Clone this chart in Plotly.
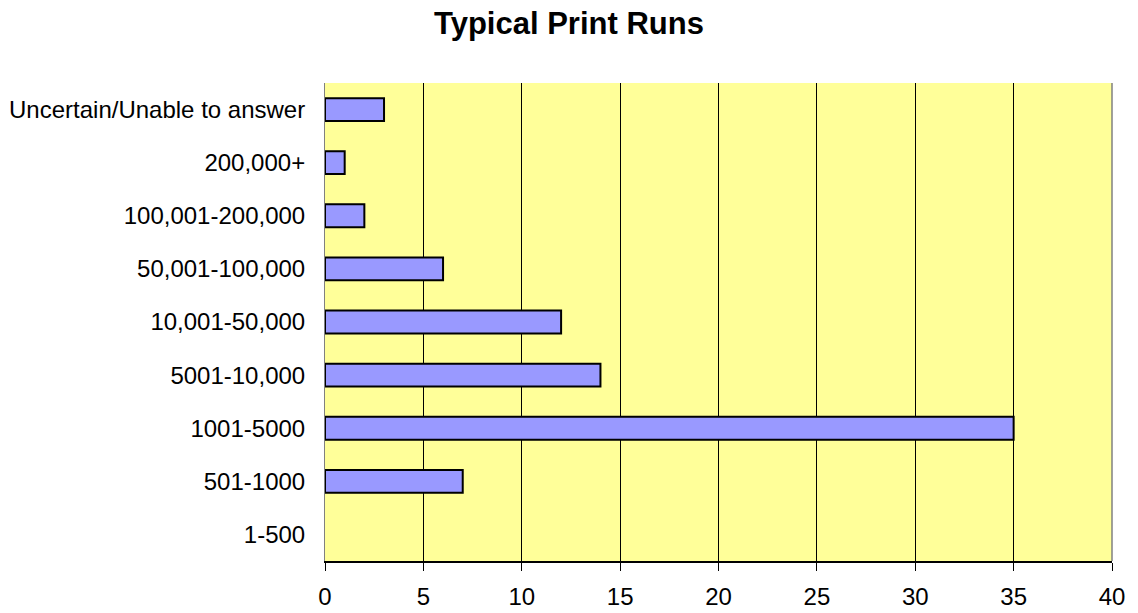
import plotly.graph_objects as go

# Survey responses: typical print run sizes
categories = [
    "1-500",
    "501-1000",
    "1001-5000",
    "5001-10,000",
    "10,001-50,000",
    "50,001-100,000",
    "100,001-200,000",
    "200,000+",
    "Uncertain/Unable to answer",
]
counts = [0, 7, 35, 14, 12, 6, 2, 1, 3]
x_ticks = [0, 5, 10, 15, 20, 25, 30, 35, 40]

# no outline for empty bars
outline_widths = [0 if v == 0 else 2 for v in counts]

fig = go.Figure(
    go.Bar(
        x=counts,
        y=categories,
        orientation="h",
        width=0.43,
        marker=dict(color="#9999FF", line=dict(color="#000000", width=outline_widths)),
    )
)

fig.update_layout(
    width=1138,
    height=613,
    paper_bgcolor="#FFFFFF",
    plot_bgcolor="#FFFF99",
    margin=dict(l=325, r=26, t=83, b=52),
    showlegend=False,
    font=dict(family="Liberation Sans, Arial, sans-serif", color="#000000"),
    title=dict(
        text="<b>Typical Print Runs</b>",
        x=0.5,
        xanchor="center",
        y=1 - 23 / 613,
        yanchor="middle",
        font=dict(size=31, color="#000000"),
    ),
    bargap=0.57,
)

fig.update_xaxes(
    range=[0, 40],
    tickvals=x_ticks,
    ticktext=[str(v) for v in x_ticks],
    showgrid=True,
    gridcolor="#000000",
    gridwidth=1,
    zeroline=False,
    showline=True,
    linecolor="#000000",
    linewidth=1.5,
    ticks="outside",
    ticklen=8,
    tickcolor="#000000",
    tickfont=dict(size=24),
    ticklabelstandoff=5,
    automargin=False,
    mirror=False,
)

fig.update_yaxes(
    categoryorder="array",
    categoryarray=categories,
    showgrid=False,
    zeroline=False,
    showline=True,
    linecolor="#808080",
    linewidth=1,
    ticks="",
    ticklabelstandoff=14,
    tickfont=dict(size=24),
    automargin=False,
)

# thin gray border on the right edge of the plotting area
fig.add_shape(
    type="line", xref="paper", yref="paper",
    x0=1, x1=1, y0=0, y1=1,
    line=dict(color="#808080", width=1.5),
)

fig.write_html("out.html")
